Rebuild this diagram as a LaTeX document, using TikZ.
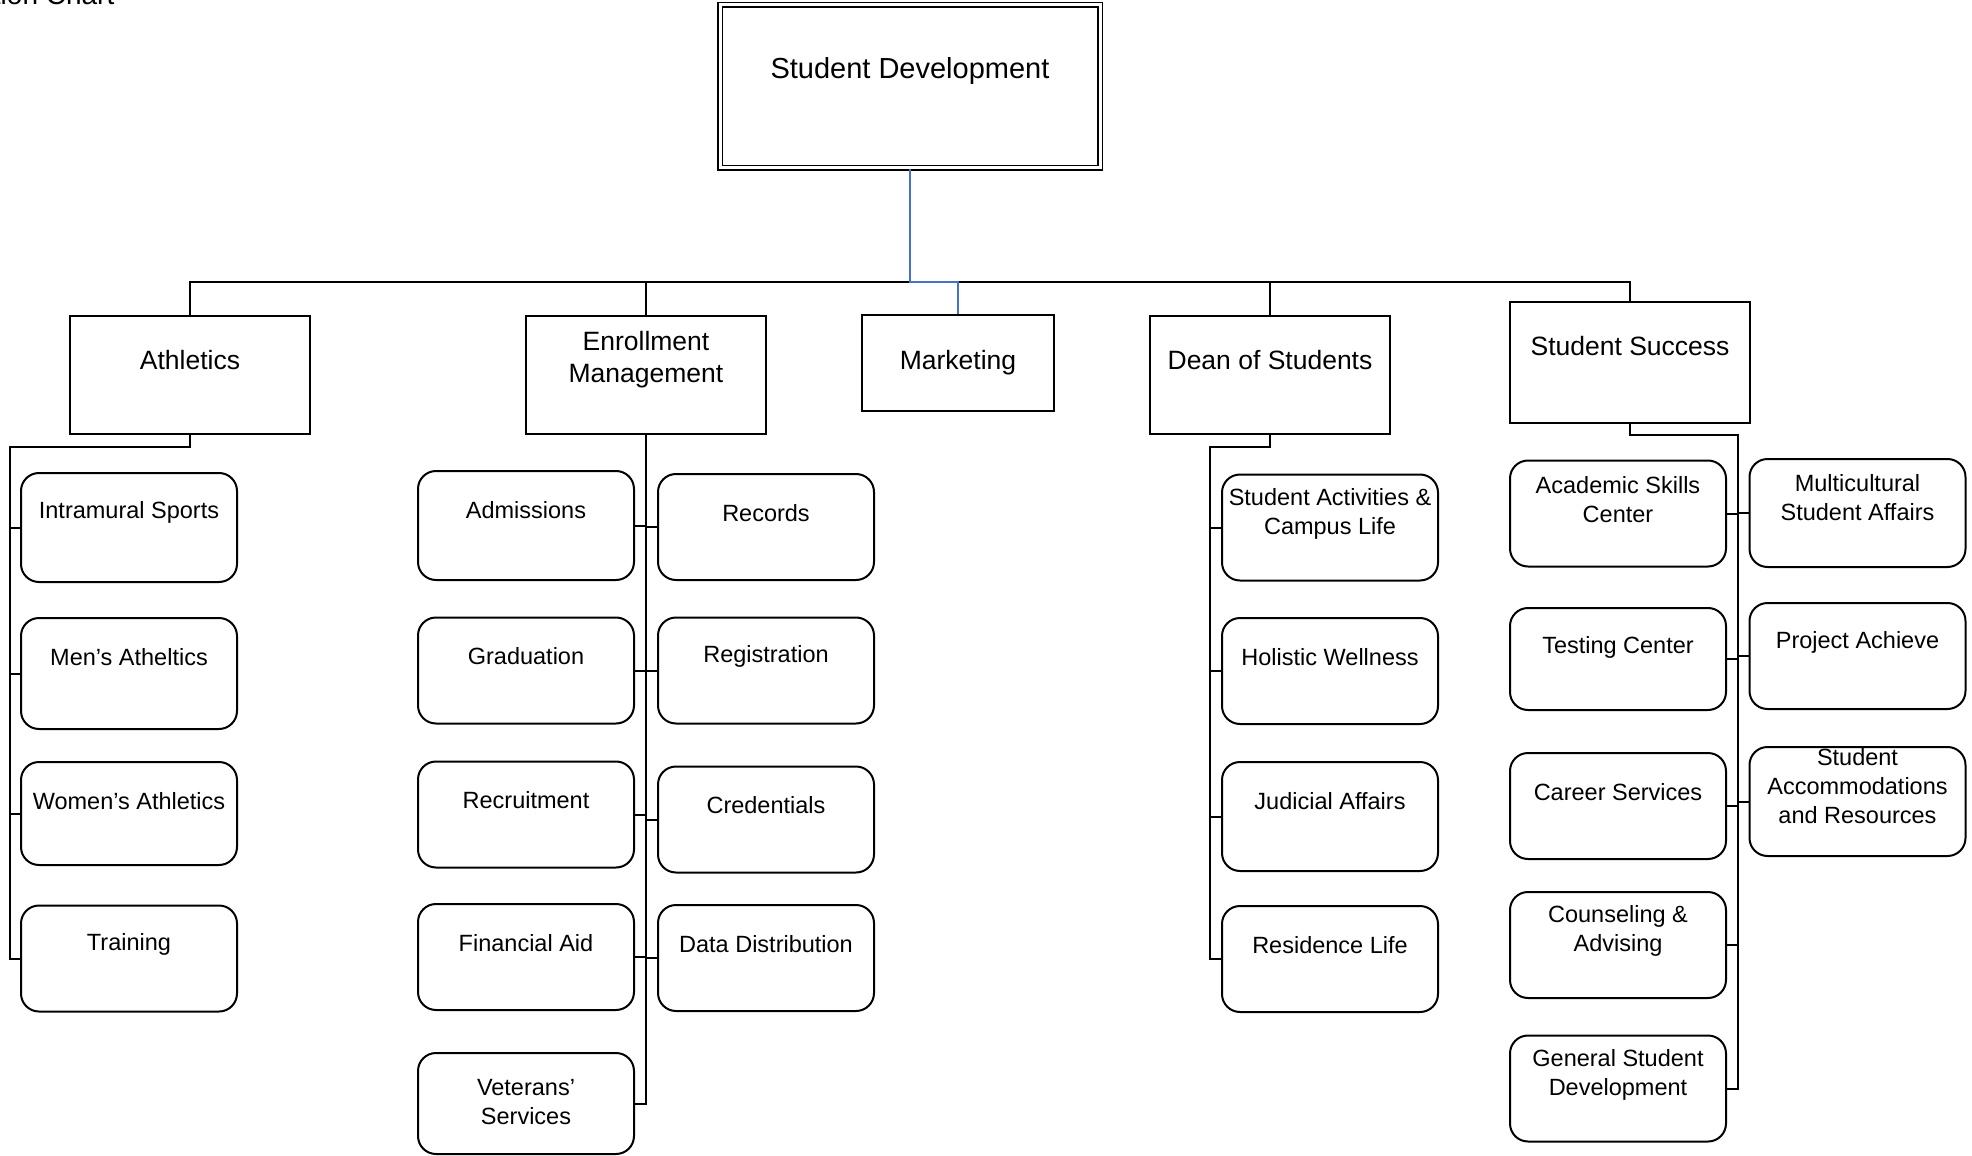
\documentclass[tikz,border=0pt]{standalone}
\usepackage{fontspec}
\setmainfont{Liberation Sans}
\definecolor{linkblue}{RGB}{68,114,196}
\begin{document}
\begin{tikzpicture}[x=0.5pt,y=-0.5pt,line width=1pt,
	head/.style={draw,inner sep=0pt,minimum width=120pt,minimum height=59pt},
	headtext/.style={anchor=center,yshift=-22.5pt,align=center,font=\fontsize{13.25}{16}\selectfont},
	unit/.style={draw,rounded corners=9pt,inner sep=0pt,minimum width=108pt,minimum height=53pt},
	unittext/.style={anchor=center,yshift=-20pt,align=center,font=\fontsize{11.75}{14.5}\selectfont},
	link/.style={draw=linkblue}]
	\useasboundingbox (0,0) rectangle (1972,1156);
	
	\node[anchor=base east,font=\fontsize{14}{16}\selectfont] (title) at (122,5) {tion Chart};
	\node[draw,double,double distance=1.5pt,line width=0.9pt,inner sep=0pt,minimum width=190pt,minimum height=81.5pt,
		label={[anchor=center,yshift=-33.25pt,font=\fontsize{14.5}{17}\selectfont]north:Student Development}] (dev) at (910,86.5) {};
	
	\node[head,label={[headtext]north:Athletics}] (athletics) at (190,375) {};
	\node[head,label={[headtext]north:Enrollment\\Management}] (enroll) at (646,375) {};
	\node[head,minimum width=96pt,minimum height=48pt,font=\fontsize{13.25}{16}\selectfont] (marketing) at (958,363) {Marketing};
	\node[head,label={[headtext]north:Dean of Students}] (dean) at (1270,375) {};
	\node[head,minimum height=60.5pt,label={[headtext]north:Student Success}] (success) at (1630,362.5) {};
	
	\node[unit,minimum height=54.5pt,label={[unittext]north:Intramural Sports}] (intramural) at (129,527.5) {};
	\node[unit,minimum height=55.5pt,label={[unittext]north:Men’s Atheltics}] (mens) at (129,673.5) {};
	\node[unit,minimum height=51.5pt,label={[unittext]north:Women’s Athletics}] (womens) at (129,813.5) {};
	\node[unit,label={[unittext]north:Training}] (training) at (129,958.5) {};
	
	\node[unit,minimum height=54.5pt,label={[unittext]north:Admissions}] (admissions) at (526,525.5) {};
	\node[unit,label={[unittext]north:Records}] (records) at (766,527) {};
	\node[unit,label={[unittext]north:Graduation}] (graduation) at (526,670.5) {};
	\node[unit,label={[unittext]north:Registration}] (registration) at (766,670.5) {};
	\node[unit,label={[unittext]north:Recruitment}] (recruitment) at (526,814.5) {};
	\node[unit,label={[unittext]north:Credentials}] (credentials) at (766,819.5) {};
	\node[unit,label={[unittext]north:Financial Aid}] (finaid) at (526,957) {};
	\node[unit,label={[unittext]north:Data Distribution}] (datadist) at (766,958) {};
	\node[unit,minimum height=50.5pt,label={[unittext,yshift=-5pt]north:Veterans’\\Services}] (veterans) at (526,1103.5) {};
	
	\node[unit,label={[unittext]north:Student Activities \&\\Campus Life}] (activities) at (1330,527.5) {};
	\node[unit,label={[unittext]north:Holistic Wellness}] (holistic) at (1330,671) {};
	\node[unit,minimum height=54.5pt,label={[unittext]north:Judicial Affairs}] (judicial) at (1330,816.5) {};
	\node[unit,label={[unittext]north:Residence Life}] (residence) at (1330,959) {};
	
	\node[unit,label={[unittext]north:Academic Skills\\Center}] (academic) at (1618,513.5) {};
	\node[unit,minimum height=54pt,label={[unittext]north:Multicultural\\Student Affairs}] (multicultural) at (1857.5,513) {};
	\node[unit,minimum height=51pt,label={[unittext]north:Testing Center}] (testing) at (1618,659) {};
	\node[unit,label={[unittext]north:Project Achieve}] (project) at (1857.5,656) {};
	\node[unit,label={[unittext]north:Career Services}] (career) at (1618,806) {};
	\node[unit,minimum height=54.5pt,label={[unittext]north:Student\\Accommodations\\and Resources}] (accommodations) at (1857.5,801.5) {};
	\node[unit,label={[unittext]north:Counseling \&\\Advising}] (counseling) at (1618,945) {};
	\node[unit,label={[unittext]north:General Student\\Development}] (gsd) at (1618,1088.5) {};
	
	\coordinate (bus) at (910,282);
	\draw (athletics.north) |- (bus) -| (success.north);
	\draw (enroll.north) -- (enroll.north |- bus);
	\draw (dean.north) -- (dean.north |- bus);
	\draw[link] (dev.south) -- (bus) -| (marketing.north);
	
	\coordinate (athl-bend) at (10,447);
	\draw (athletics.south) |- (athl-bend) |- (training.west);
	\foreach \n in {intramural,mens,womens} \draw (\n.west) -- (\n.west -| athl-bend);
	
	\draw (enroll.south) |- (veterans.east);
	\foreach \n in {admissions,graduation,recruitment,finaid} \draw (\n.east) -- (\n.east -| enroll.south);
	\foreach \n in {records,registration,credentials,datadist} \draw (\n.west) -- (\n.west -| enroll.south);
	
	\coordinate (dean-bend) at (1210,447);
	\draw (dean.south) |- (dean-bend) |- (residence.west);
	\foreach \n in {activities,holistic,judicial} \draw (\n.west) -- (\n.west -| dean-bend);
	
	\coordinate (succ-bend) at (1738,435);
	\draw (success.south) |- (succ-bend) |- (gsd.east);
	\foreach \n in {academic,testing,career,counseling} \draw (\n.east) -- (\n.east -| succ-bend);
	\foreach \n in {multicultural,project,accommodations} \draw (\n.west) -- (\n.west -| succ-bend);
\end{tikzpicture}
\end{document}
